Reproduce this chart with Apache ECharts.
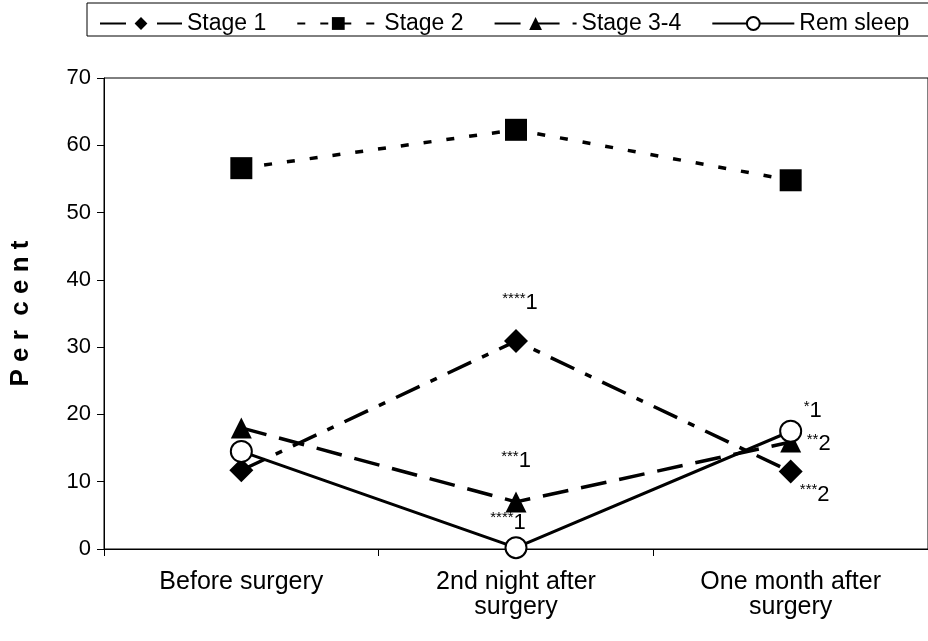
<!DOCTYPE html>
<html>
<head>
<meta charset="utf-8">
<script src="https://cdn.jsdelivr.net/npm/echarts@6/dist/echarts.min.js"></script>
<style>
  html, body { margin: 0; padding: 0; background: #fff; }
  #main { width: 928px; height: 641px; }
</style>
</head>
<body>
<div id="main"></div>
<script>
// 数据
var categories = ["Before surgery", "2nd night after\nsurgery", "One month after\nsurgery"];
var stage1 = [11.7, 30.9, 11.5];
var stage2 = [56.6, 62.3, 54.8];
var stage34 = [18.0, 7.0, 15.9];
var remSleep = [14.5, 0.2, 17.5];
var yTicks = [0, 10, 20, 30, 40, 50, 60, 70];

var FONT = "Liberation Sans, Arial, sans-serif";

// 标注文字 (星号为上标)
function note(stars, num, dx, dy) {
  return {
    show: true,
    position: "inside",
    offset: [dx, dy],
    formatter: "{s|" + stars + "}{n|" + num + "}",
    rich: {
      s: { fontSize: 15, fontFamily: FONT, color: "#000", verticalAlign: "top", padding: [0, 0, 9, 0] },
      n: { fontSize: 22, fontFamily: FONT, color: "#000" }
    }
  };
}

function withLabels(arr, labels) {
  return arr.map(function (v, i) {
    var d = { value: v };
    if (labels[i]) d.label = labels[i];
    return d;
  });
}

var myChart = echarts.init(document.getElementById("main"));
var option = {
  animation: false,
  textStyle: { fontFamily: FONT },
  graphic: [
    {
      type: "rect",
      shape: { x: 87, y: 3, width: 900, height: 33 },
      style: { fill: "none", stroke: "#000", lineWidth: 1 },
      z: 0
    }
  ],
  legend: {
    left: 94,
    top: 7,
    itemWidth: 82,
    itemHeight: 16,
    itemGap: 30,
    textStyle: { fontSize: 23, color: "#000", fontFamily: FONT },
    data: ["Stage 1", "Stage 2", "Stage 3-4", "Rem sleep"]
  },
  grid: {
    left: 104,
    top: 78,
    width: 829,
    height: 471,
    show: true,
    borderColor: "#000",
    borderWidth: 1
  },
  xAxis: {
    type: "category",
    data: categories,
    boundaryGap: true,
    axisLine: { lineStyle: { color: "#000", width: 1 } },
    axisTick: { show: true, length: 7, lineStyle: { color: "#000" } },
    axisLabel: { color: "#000", fontSize: 25, fontFamily: FONT, margin: 21, lineHeight: 25 }
  },
  yAxis: {
    type: "value",
    min: 0,
    max: 70,
    interval: 10,
    name: "P e r  c e n t",
    nameLocation: "middle",
    nameGap: 70,
    nameTextStyle: { fontSize: 26, fontWeight: "bold", color: "#000", fontFamily: FONT },
    splitLine: { show: false },
    axisLine: { show: true, lineStyle: { color: "#000", width: 1 } },
    axisTick: { show: true, length: 7, lineStyle: { color: "#000" } },
    axisLabel: {
      color: "#000", fontSize: 22, fontFamily: FONT, margin: 13,
      formatter: function (v) { return yTicks.indexOf(v) >= 0 ? String(v) : ""; }
    }
  },
  series: [
    {
      name: "Stage 1",
      type: "line",
      data: withLabels(stage1, [null, note("****", "1", 4, -38), note("***", "2", 24, 23)]),
      symbol: "diamond",
      symbolSize: 24,
      itemStyle: { color: "#000" },
      lineStyle: { color: "#000", width: 3.5, type: [26, 12, 7, 12] },
      z: 3
    },
    {
      name: "Stage 2",
      type: "line",
      data: stage2,
      symbol: "rect",
      symbolSize: 22,
      itemStyle: { color: "#000" },
      lineStyle: { color: "#000", width: 3.5, type: [8, 15] },
      z: 3
    },
    {
      name: "Stage 3-4",
      type: "line",
      data: withLabels(stage34, [null, note("***", "1", 0, -41), note("**", "2", 28, 2)]),
      symbol: "triangle",
      symbolSize: 21,
      itemStyle: { color: "#000" },
      lineStyle: { color: "#000", width: 3.5, type: [26, 13] },
      z: 3
    },
    {
      name: "Rem sleep",
      type: "line",
      data: withLabels(remSleep, [null, note("****", "1", -8, -25), note("*", "1", 22, -20)]),
      symbol: "circle",
      symbolSize: 21,
      itemStyle: { color: "#fff", borderColor: "#000", borderWidth: 2 },
      lineStyle: { color: "#000", width: 3, type: "solid" },
      z: 4
    }
  ]
};
myChart.setOption(option);
</script>
</body>
</html>
